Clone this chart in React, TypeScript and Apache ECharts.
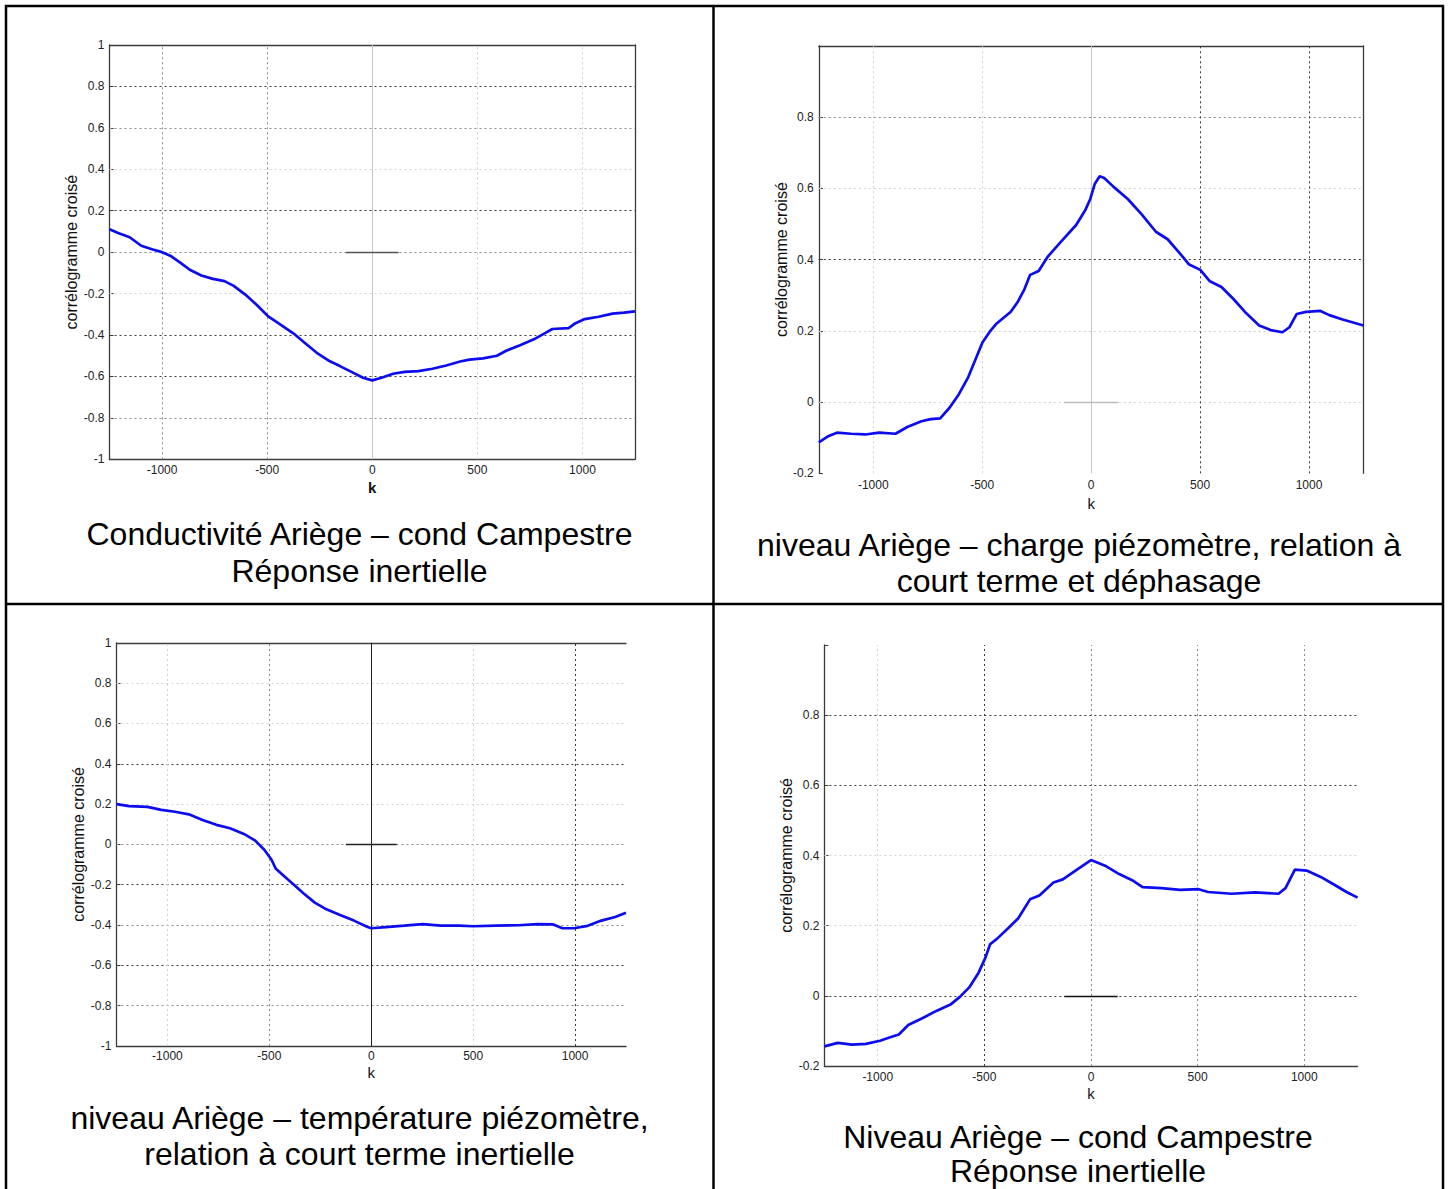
import React, { useEffect, useRef } from "react";
import * as echarts from "echarts";

// ---------- DATA ----------
const X_MIN = -1250;
const X_MAX = 1250;
const xTickLabels = [-1000, -500, 0, 500, 1000];

// Plot 1 : Conductivité Ariège – cond Campestre
const kCondCamp = [-1250, -1209, -1154, -1099, -1044, -1000, -956, -912, -868, -813, -758, -703, -659, -604, -549, -495, -440, -374, -319, -264, -209, -154, -99, -44, 0, 44, 99, 154, 220, 286, 352, 418, 462, 527, 593, 637, 703, 769, 824, 857, 934, 967, 1011, 1077, 1143, 1198, 1250];
const vCondCamp = [0.11, 0.092, 0.072, 0.031, 0.013, 0.0, -0.02, -0.052, -0.085, -0.113, -0.129, -0.14, -0.163, -0.205, -0.255, -0.31, -0.347, -0.393, -0.44, -0.486, -0.523, -0.55, -0.578, -0.606, -0.619, -0.606, -0.587, -0.578, -0.574, -0.563, -0.547, -0.528, -0.519, -0.513, -0.5, -0.476, -0.449, -0.421, -0.39, -0.371, -0.367, -0.343, -0.323, -0.312, -0.297, -0.292, -0.286];

// Plot 2 : niveau Ariège – charge piézomètre
const kNivCharge = [-1250, -1210, -1167, -1102, -1037, -973, -898, -844, -779, -736, -693, -650, -607, -564, -532, -499, -467, -435, -370, -338, -306, -280, -241, -198, -133, -69, -26, -4, 17, 39, 60, 103, 168, 232, 297, 351, 405, 448, 501, 545, 598, 652, 706, 771, 824, 878, 910, 943, 986, 1050, 1093, 1158, 1250];
const vNivCharge = [-0.113, -0.097, -0.086, -0.089, -0.091, -0.086, -0.089, -0.07, -0.054, -0.048, -0.046, -0.016, 0.022, 0.07, 0.118, 0.167, 0.196, 0.22, 0.253, 0.28, 0.317, 0.357, 0.368, 0.409, 0.454, 0.497, 0.54, 0.57, 0.613, 0.634, 0.629, 0.604, 0.57, 0.527, 0.478, 0.457, 0.419, 0.387, 0.371, 0.339, 0.323, 0.29, 0.253, 0.215, 0.202, 0.196, 0.21, 0.247, 0.253, 0.256, 0.244, 0.231, 0.215];

// Plot 3 : niveau Ariège – température piézomètre
const kNivTemp = [-1250, -1188, -1098, -1030, -963, -895, -828, -760, -693, -625, -569, -524, -490, -468, -423, -378, -333, -277, -220, -153, -85, -18, 0, 72, 162, 252, 342, 432, 499, 612, 724, 814, 893, 938, 994, 1062, 1129, 1197, 1250];
const vNivTemp = [0.2, 0.19, 0.186, 0.171, 0.162, 0.149, 0.121, 0.097, 0.08, 0.052, 0.019, -0.028, -0.075, -0.121, -0.162, -0.201, -0.242, -0.289, -0.322, -0.35, -0.378, -0.41, -0.416, -0.41, -0.403, -0.395, -0.403, -0.403, -0.406, -0.403, -0.401, -0.395, -0.397, -0.416, -0.416, -0.404, -0.378, -0.36, -0.339];

// Plot 4 : Niveau Ariège – cond Campestre
const kNivCond = [-1250, -1187, -1121, -1055, -989, -945, -901, -857, -791, -725, -659, -615, -571, -527, -495, -473, -440, -385, -341, -286, -242, -176, -132, -66, 0, 66, 132, 198, 242, 330, 418, 505, 549, 659, 769, 879, 912, 956, 1011, 1077, 1143, 1198, 1250];
const vNivCond = [-0.144, -0.134, -0.139, -0.137, -0.128, -0.119, -0.11, -0.083, -0.064, -0.043, -0.025, -0.003, 0.024, 0.066, 0.109, 0.147, 0.163, 0.195, 0.221, 0.275, 0.286, 0.323, 0.332, 0.36, 0.387, 0.371, 0.347, 0.328, 0.31, 0.307, 0.302, 0.304, 0.296, 0.291, 0.295, 0.291, 0.307, 0.36, 0.357, 0.339, 0.316, 0.296, 0.28];

// grid values
const yGridFull = [-0.8, -0.6, -0.4, -0.2, 0, 0.2, 0.4, 0.6, 0.8];
const yGridHalf = [0, 0.2, 0.4, 0.6, 0.8];

const captions = [
  ["Conductivité Ariège – cond Campestre", "Réponse inertielle"],
  ["niveau Ariège – charge piézomètre, relation à", "court terme et déphasage"],
  ["niveau Ariège – température piézomètre,", "relation à court terme inertielle"],
  ["Niveau Ariège – cond Campestre", "Réponse inertielle"],
];

const Y_NAME = "corrélogramme croisé";
const X_NAME = "k";

// ---------- STYLES ----------
const FONT = '"Liberation Sans", Arial, Helvetica, sans-serif';
const BLUE = "#0c0cef";
const AXIS = "#3c3c3c";
const SHADE: Record<string, any> = {
  d: { color: "#3a3a3a", type: [2, 3], width: 1 },
  m: { color: "#8c8c8c", type: [2, 3], width: 1 },
  f: { color: "#d2d2d2", type: [2, 3], width: 1 },
  g: { color: "#c6c6c6", type: "solid", width: 1 },
  k: { color: "#1e1e1e", type: "solid", width: 1 },
};

const plots = [
  {
    grid: { left: 109.5, top: 45, width: 525.5, height: 414.3 },
    yMin: -1, yMax: 1, hideMaxY: false,
    k: kCondCamp, v: vCondCamp,
    yGrid: yGridFull, yShade: ["m", "d", "d", "f", "m", "d", "f", "m", "d"],
    xShade: ["m", "m", "g", "f", "f"],
    seg: "#555",
    box: { top: true, right: true, bottom: true },
    kBold: true, kGap: 21, xMargin: 5,
  },
  {
    grid: { left: 818.8, top: 45.8, width: 544.7, height: 427.5 },
    yMin: -0.2, yMax: 1, hideMaxY: true,
    k: kNivCharge, v: vNivCharge,
    yGrid: yGridHalf, yShade: ["f", "f", "d", "f", "m"],
    xShade: ["f", "f", "g", "d", "d"],
    seg: "#bdbdbd",
    box: { top: true, right: true, bottom: false },
    kBold: false, kGap: 23, xMargin: 6,
  },
  {
    grid: { left: 116.5, top: 642.8, width: 509.5, height: 403.2 },
    yMin: -1, yMax: 1, hideMaxY: false,
    k: kNivTemp, v: vNivTemp,
    yGrid: yGridFull, yShade: ["m", "d", "m", "d", "m", "f", "d", "f", "f"],
    xShade: ["f", "m", "k", "f", "d"],
    seg: "#222",
    box: { top: true, right: false, bottom: true },
    kBold: false, kGap: 19, xMargin: 4,
  },
  {
    grid: { left: 824.4, top: 645, width: 533.2, height: 421 },
    yMin: -0.2, yMax: 1, hideMaxY: true,
    k: kNivCond, v: vNivCond,
    yGrid: yGridHalf, yShade: ["d", "f", "f", "d", "d"],
    xShade: ["f", "d", "m", "m", "m"],
    seg: "#111",
    box: { top: false, right: false, bottom: true },
    kBold: false, kGap: 20, xMargin: 5,
  },
];

const captionPos = [
  { x: 359.5, y: [534, 571] },
  { x: 1079, y: [545, 581] },
  { x: 359.5, y: [1118, 1154] },
  { x: 1078, y: [1137, 1171] },
];

function fmtY(hideMax: boolean) {
  return (v: number) => {
    if (hideMax && Math.abs(v - 1) < 1e-6) return "";
    return String(Number(v.toFixed(1)));
  };
}
function fmtX(v: number) {
  const r = Math.round(v);
  return xTickLabels.indexOf(r) >= 0 ? String(r) : "";
}

function buildOption() {
  const grids: any[] = [];
  const xAxes: any[] = [];
  const yAxes: any[] = [];
  const series: any[] = [];
  const axisLineStyle = { color: AXIS, width: 1.3 };

  plots.forEach((p, i) => {
    grids.push({ ...p.grid, containLabel: false });
    const xi = xAxes.length;
    xAxes.push({
      gridIndex: i, type: "value", min: X_MIN, max: X_MAX, interval: 250, position: "bottom",
      axisLine: { show: p.box.bottom, onZero: false, lineStyle: axisLineStyle },
      axisTick: { show: false }, splitLine: { show: false },
      axisLabel: { formatter: fmtX, fontSize: 12, color: "#222", margin: p.xMargin, fontFamily: FONT, showMinLabel: true, showMaxLabel: true },
      name: X_NAME, nameLocation: "middle", nameGap: p.kGap,
      nameTextStyle: { fontSize: 15, color: "#111", fontFamily: FONT, fontWeight: p.kBold ? "bold" : "normal" },
    });
    if (p.box.top) {
      xAxes.push({
        gridIndex: i, type: "value", min: X_MIN, max: X_MAX, position: "top",
        axisLine: { show: true, onZero: false, lineStyle: axisLineStyle },
        axisTick: { show: false }, axisLabel: { show: false }, splitLine: { show: false },
      });
    }
    const yi = yAxes.length;
    yAxes.push({
      gridIndex: i, type: "value", min: p.yMin, max: p.yMax, interval: 0.2, position: "left",
      axisLine: { show: true, onZero: false, lineStyle: axisLineStyle },
      axisTick: { show: true, inside: true, length: 4, lineStyle: { color: AXIS } },
      splitLine: { show: false },
      axisLabel: { formatter: fmtY(p.hideMaxY), fontSize: 12, color: "#222", margin: 5, fontFamily: FONT },
      name: Y_NAME, nameLocation: "middle", nameGap: 27,
      nameTextStyle: { fontSize: 16, color: "#111", fontFamily: FONT },
    });
    if (p.box.right) {
      yAxes.push({
        gridIndex: i, type: "value", min: p.yMin, max: p.yMax, position: "right",
        axisLine: { show: true, onZero: false, lineStyle: axisLineStyle },
        axisTick: { show: false }, axisLabel: { show: false }, splitLine: { show: false },
      });
    }
    const mlData: any[] = [];
    p.yGrid.forEach((y, j) => mlData.push({ yAxis: y, lineStyle: SHADE[p.yShade[j]] }));
    xTickLabels.forEach((x, j) => mlData.push({ xAxis: x, lineStyle: SHADE[p.xShade[j]] }));
    mlData.push([
      { coord: [-125, 0], lineStyle: { color: p.seg, type: "solid", width: 1.3 } },
      { coord: [125, 0] },
    ]);
    series.push({
      type: "line",
      xAxisIndex: xi,
      yAxisIndex: yi,
      data: p.k.map((k, j) => [k, p.v[j]]),
      showSymbol: false,
      symbol: "none",
      smooth: false,
      z: 10,
      lineStyle: { color: BLUE, width: 2.7 },
      markLine: {
        z: 1,
        silent: true,
        symbol: ["none", "none"],
        label: { show: false },
        animation: false,
        data: mlData,
      },
    });
  });

  const graphic: any[] = [
    { type: "rect", z: 100, shape: { x: 6, y: 6, width: 1437, height: 1300 }, style: { fill: "none", stroke: "#000", lineWidth: 2.5 } },
    { type: "line", z: 100, shape: { x1: 713.5, y1: 6, x2: 713.5, y2: 1300 }, style: { stroke: "#000", lineWidth: 2.5 } },
    { type: "line", z: 100, shape: { x1: 6, y1: 604, x2: 1443, y2: 604 }, style: { stroke: "#000", lineWidth: 2.5 } },
  ];
  captions.forEach((lines, i) => {
    lines.forEach((t, j) => {
      graphic.push({
        type: "text",
        z: 100,
        x: captionPos[i].x,
        y: captionPos[i].y[j],
        style: {
          text: t,
          fill: "#000",
          fontSize: 32,
          fontFamily: FONT,
          align: "center",
          verticalAlign: "middle",
          textAlign: "center",
          textVerticalAlign: "middle",
        },
      });
    });
  });

  return {
    animation: false,
    backgroundColor: "#ffffff",
    textStyle: { fontFamily: FONT },
    grid: grids,
    xAxis: xAxes,
    yAxis: yAxes,
    series,
    graphic,
  };
}

export default function App() {
  const ref = useRef<HTMLDivElement>(null);
  useEffect(() => {
    if (!ref.current) return;
    const chart = echarts.init(ref.current, undefined, { renderer: "svg" });
    chart.setOption(buildOption() as any);
    return () => chart.dispose();
  }, []);
  return (
    <div
      ref={ref}
      style={{ position: "absolute", left: 0, top: 0, width: 1450, height: 1189, background: "#fff" }}
    />
  );
}
